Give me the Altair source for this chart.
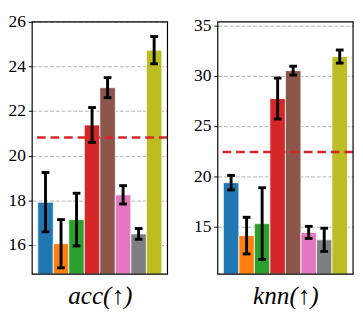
import altair as alt
import pandas as pd

methods = ["m1", "m2", "m3", "m4", "m5", "m6", "m7", "m8"]
colors = ["#1f77b4", "#ff7f0e", "#2ca02c", "#d62728", "#8c564b", "#e377c2", "#7f7f7f", "#bcbd22"]

acc_vals = [17.92, 16.06, 17.14, 21.38, 23.05, 18.25, 16.50, 24.73]
acc_err = [1.33, 1.08, 1.18, 0.78, 0.45, 0.41, 0.24, 0.61]
acc_base = 20.82
acc_ticks = [16, 18, 20, 22, 24, 26]
acc_domain = [14.7, 26.0]

knn_vals = [19.38, 14.12, 15.31, 27.73, 30.50, 14.44, 13.70, 31.90]
knn_err = [0.72, 1.82, 3.56, 2.03, 0.44, 0.60, 1.15, 0.65]
knn_base = 22.42
knn_ticks = [15, 20, 25, 30, 35]
knn_domain = [10.3, 35.35]

SERIF = "Liberation Serif"
W, H = 140, 261


def panel(vals, errs, base, domain, ticks, title):
    df = pd.DataFrame({
        "m": methods,
        "v": vals,
        "lo": [v - e for v, e in zip(vals, errs)],
        "hi": [v + e for v, e in zip(vals, errs)],
    })
    x = alt.X("m:N", sort=methods,
              scale=alt.Scale(paddingInner=0, paddingOuter=0.36),
              axis=alt.Axis(labels=False, ticks=False, domain=False, grid=False,
                            title=title, titleFont=SERIF, titleFontSize=26,
                            titleFontStyle="italic", titleFontWeight="normal",
                            titlePadding=9, titleColor="black"))
    yscale = alt.Scale(domain=domain, nice=False, zero=False)
    yaxis = alt.Axis(values=ticks, title=None, labelFont=SERIF, labelFontSize=18,
                     labelColor="black", tickColor="black", tickSize=4,
                     labelPadding=3, domain=False, grid=True, gridColor="#b0b0b0",
                     gridDash=[4, 2], gridWidth=1, labelFlush=False)
    base_chart = alt.Chart(df)
    bars = base_chart.mark_bar(clip=True, stroke="white", strokeWidth=1, strokeOpacity=0.8).encode(
        x=x,
        y=alt.Y("v:Q", scale=yscale, axis=yaxis),
        y2=alt.datum(domain[0]),
        color=alt.Color("m:N", scale=alt.Scale(domain=methods, range=colors), legend=None),
    )
    line = alt.Chart(pd.DataFrame({"b": [base]})).mark_rule(
        color="#d62728", strokeWidth=2.7, strokeDash=[9, 5]
    ).encode(y=alt.Y("b:Q", scale=yscale))
    err = base_chart.mark_rule(color="black", strokeWidth=3).encode(
        x=alt.X("m:N", sort=methods), y=alt.Y("lo:Q", scale=yscale), y2="hi:Q")
    cap_lo = base_chart.mark_tick(color="black", thickness=3, size=8, opacity=1).encode(
        x=alt.X("m:N", sort=methods), y=alt.Y("lo:Q", scale=yscale))
    cap_hi = base_chart.mark_tick(color="black", thickness=3, size=8, opacity=1).encode(
        x=alt.X("m:N", sort=methods), y=alt.Y("hi:Q", scale=yscale))
    frame = alt.Chart(pd.DataFrame({"f": [0]})).mark_rect(
        fill=None, stroke="black", strokeWidth=1.2
    ).encode(x=alt.value(0), x2=alt.value(W), y=alt.value(0), y2=alt.value(H))
    return alt.layer(bars, line, err, cap_lo, cap_hi, frame).properties(width=W, height=H)


p1 = panel(acc_vals, acc_err, acc_base, acc_domain, acc_ticks, "acc(↑)")
p2 = panel(knn_vals, knn_err, knn_base, knn_domain, knn_ticks, "knn(↑)")

chart = alt.hconcat(p1, p2, spacing=25).properties(
    padding={"left": 0, "top": 0, "right": 0, "bottom": 0},
).configure(background="white").configure_view(stroke=None)

chart.save("out.html", embed_options={"renderer": "svg", "actions": False})
